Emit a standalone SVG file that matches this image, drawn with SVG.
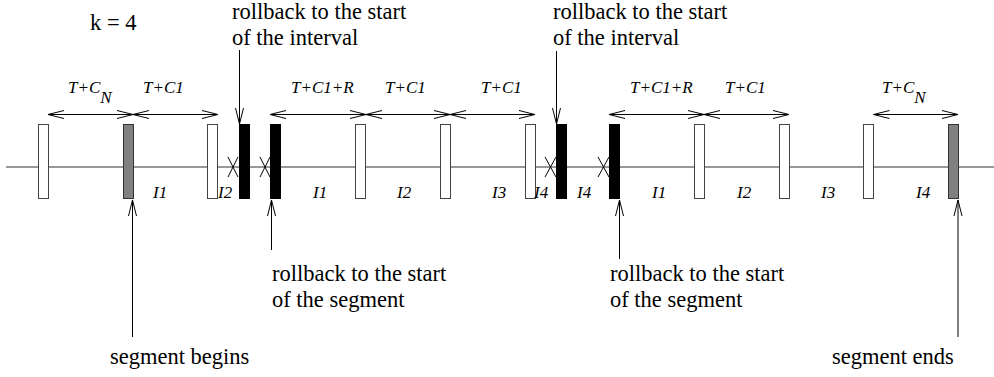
<svg xmlns="http://www.w3.org/2000/svg" width="994" height="377" viewBox="0 0 994 377">
<defs>
<marker id="open" viewBox="-17 -5 18 10" refX="0" refY="0" markerWidth="18" markerHeight="10" markerUnits="userSpaceOnUse" orient="auto-start-reverse" overflow="visible">
<path d="M-16,-4 L0,0 L-16,4" fill="none" stroke="#000" stroke-width="1"/>
</marker>
</defs>
<style>
.ln{stroke:#000;stroke-width:1;fill:none}
.axis{stroke:#333;stroke-width:1.2;fill:none}
.w{fill:#fff;stroke:#444;stroke-width:1}
.g{fill:#808080;stroke:#333;stroke-width:1}
.b{fill:#000;stroke:#000;stroke-width:1}
.big{font-size:22.5px;fill:#000}
.it{font-style:italic;font-size:17px;fill:#000}
.x{stroke:#000;stroke-width:1;fill:none}
</style>
<rect width="994" height="377" fill="#fff"/>
<line class="axis" x1="6" y1="167" x2="994" y2="167"/>
<g id="cp1"><rect class="w" x="38.5" y="124.5" width="10" height="74"/></g>
<g id="cp2"><rect class="g" x="123.5" y="124.5" width="10" height="74"/></g>
<g id="cp3"><rect class="w" x="207.5" y="124.5" width="10" height="74"/></g>
<g id="cp4"><rect class="b" x="239.5" y="124.5" width="10" height="74"/></g>
<g id="cp5"><rect class="b" x="270.5" y="124.5" width="10" height="74"/></g>
<g id="cp6"><rect class="w" x="355.5" y="124.5" width="10" height="74"/></g>
<g id="cp7"><rect class="w" x="440.5" y="124.5" width="10" height="74"/></g>
<g id="cp8"><rect class="w" x="525.5" y="124.5" width="10" height="74"/></g>
<g id="cp9"><rect class="b" x="556.5" y="124.5" width="10" height="74"/></g>
<g id="cp10"><rect class="b" x="609.5" y="124.5" width="10" height="74"/></g>
<g id="cp11"><rect class="w" x="694.5" y="124.5" width="10" height="74"/></g>
<g id="cp12"><rect class="w" x="779.5" y="124.5" width="10" height="74"/></g>
<g id="cp13"><rect class="w" x="863.5" y="124.5" width="10" height="74"/></g>
<g id="cp14"><rect class="g" x="948.5" y="124.5" width="10" height="74"/></g>
<g id="failures">
<path class="x" d="M228,157 L238,177 M238,157 L228,177"/>
<path class="x" d="M260,157 L270,177 M270,157 L260,177"/>
<path class="x" d="M545,157 L556,177 M556,157 L545,177"/>
<path class="x" d="M598,157 L609,177 M609,157 L598,177"/>
</g>
<g id="connectors">
<line class="ln" x1="48" y1="114.5" x2="133" y2="114.5" marker-start="url(#open)" marker-end="url(#open)"/>
<line class="ln" x1="133" y1="114.5" x2="218" y2="114.5" marker-start="url(#open)" marker-end="url(#open)"/>
<line class="ln" x1="270" y1="114.5" x2="366" y2="114.5" marker-start="url(#open)" marker-end="url(#open)"/>
<line class="ln" x1="366" y1="114.5" x2="450" y2="114.5" marker-start="url(#open)" marker-end="url(#open)"/>
<line class="ln" x1="450" y1="114.5" x2="535" y2="114.5" marker-start="url(#open)" marker-end="url(#open)"/>
<line class="ln" x1="609" y1="114.5" x2="704" y2="114.5" marker-start="url(#open)" marker-end="url(#open)"/>
<line class="ln" x1="704" y1="114.5" x2="789" y2="114.5" marker-start="url(#open)" marker-end="url(#open)"/>
<line class="ln" x1="873.5" y1="114.5" x2="958" y2="114.5" marker-start="url(#open)" marker-end="url(#open)"/>
<line class="ln" x1="239.5" y1="50" x2="239.5" y2="124" marker-end="url(#open)"/>
<line class="ln" x1="556.5" y1="51" x2="556.5" y2="124" marker-end="url(#open)"/>
<line class="ln" x1="271.5" y1="250" x2="271.5" y2="200" marker-end="url(#open)"/>
<line class="ln" x1="619.5" y1="259" x2="619.5" y2="200" marker-end="url(#open)"/>
<line class="ln" x1="132.5" y1="337" x2="132.5" y2="200" marker-end="url(#open)"/>
<line class="ln" x1="958" y1="337" x2="958" y2="200" marker-end="url(#open)"/>
</g>
<g id="labels" font-family="Liberation Serif">
<text class="big" x="90" y="30">k = 4</text>
<text class="big" x="232" y="19">rollback to the start</text>
<text class="big" x="232" y="45">of the interval</text>
<text class="big" x="553" y="19">rollback to the start</text>
<text class="big" x="553" y="45">of the interval</text>
<text class="big" x="272" y="281">rollback to the start</text>
<text class="big" x="272" y="307">of the segment</text>
<text class="big" x="610" y="281">rollback to the start</text>
<text class="big" x="610" y="307">of the segment</text>
<text class="big" x="110" y="364">segment begins</text>
<text class="big" x="832" y="364">segment ends</text>
<text class="it" x="68" y="93">T+C<tspan dy="10">N</tspan></text>
<text class="it" x="143" y="93">T+C1</text>
<text class="it" x="291" y="93">T+C1+R</text>
<text class="it" x="385" y="93">T+C1</text>
<text class="it" x="481" y="93">T+C1</text>
<text class="it" x="630" y="93">T+C1+R</text>
<text class="it" x="725" y="93">T+C1</text>
<text class="it" x="882" y="93">T+C<tspan dy="10">N</tspan></text>
<text class="it" x="153" y="198">I1</text>
<text class="it" x="218" y="198">I2</text>
<text class="it" x="313" y="198">I1</text>
<text class="it" x="397" y="198">I2</text>
<text class="it" x="492" y="198">I3</text>
<text class="it" x="534" y="198">I4</text>
<text class="it" x="577" y="198">I4</text>
<text class="it" x="652" y="198">I1</text>
<text class="it" x="737" y="198">I2</text>
<text class="it" x="821" y="198">I3</text>
<text class="it" x="916" y="198">I4</text>
</g>
</svg>
